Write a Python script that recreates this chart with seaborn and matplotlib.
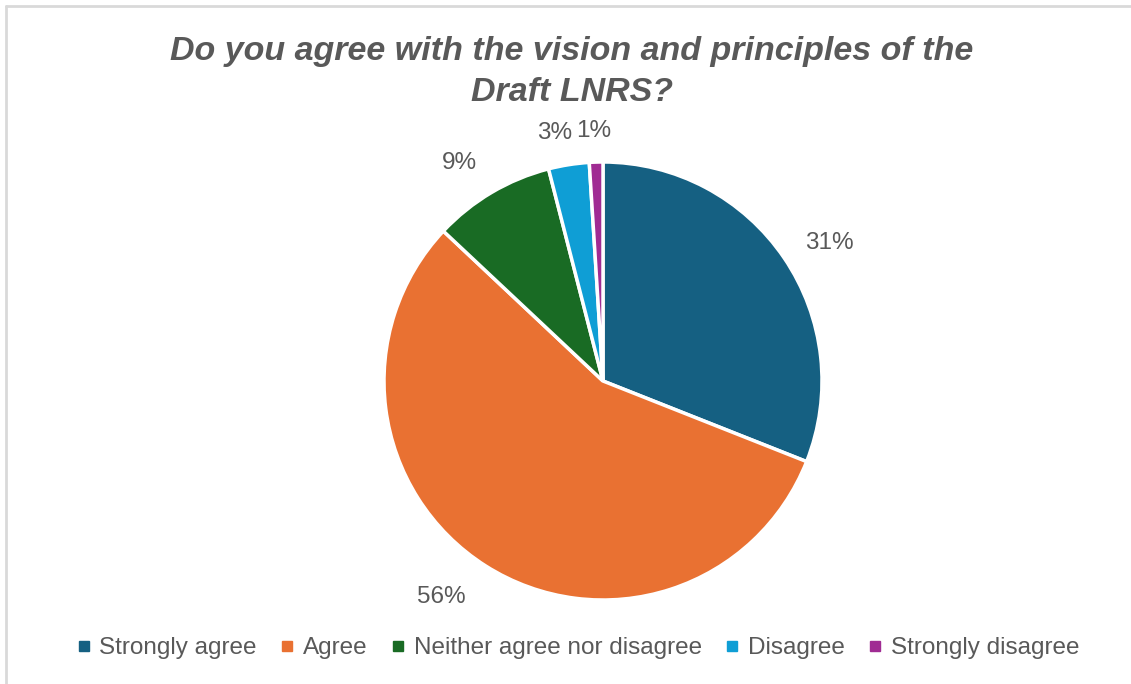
import matplotlib
matplotlib.use("Agg")
import matplotlib.pyplot as plt
import seaborn as sns
from matplotlib.lines import Line2D
import numpy as np

# Survey responses
categories = ["Strongly agree", "Agree", "Neither agree nor disagree", "Disagree", "Strongly disagree"]
shares = [31, 56, 9, 3, 1]
colors = ["#156082", "#E97132", "#196B24", "#0F9ED5", "#A02B93"]
title = "Do you agree with the vision and principles of the\nDraft LNRS?"

sns.set_theme(style="white")
plt.rcParams["font.family"] = ["Liberation Sans", "DejaVu Sans"]

W, H = 1131, 684
fig = plt.figure(figsize=(W / 100, H / 100), dpi=100)

# pie axes: centre and radius in pixels
cx, cy, R, lim = 603, 381, 219, 1.4
aw = 2 * lim * R
ax = fig.add_axes([(cx - aw / 2) / W, 1 - (cy + aw / 2) / H, aw / W, aw / H])

wedges, _, pct_texts = ax.pie(
    shares, colors=colors, startangle=90, counterclock=False,
    autopct=lambda p: f"{p:.0f}%", pctdistance=1.2,
    wedgeprops=dict(edgecolor="white", linewidth=2.5),
    textprops=dict(color="#595959", fontsize=17.5),
)
ax.set_xlim(-lim, lim)
ax.set_ylim(-lim, lim)
ax.set_aspect("equal")
ax.axis("off")

# outside-end labels: radial distance and a small angular nudge per slice
label_dist = [1.21, 1.233, 1.19, 1.153, 1.142]
label_turn = [-2.8, -4.5, 2.7, 2.0, 0.3]
for w, t, d, turn in zip(wedges, pct_texts, label_dist, label_turn):
    a = np.deg2rad((w.theta1 + w.theta2) / 2 + turn)
    t.set_position((d * np.cos(a), d * np.sin(a)))
    t.set_clip_on(False)

fig.text(572 / W, 1 - 72 / H, title, ha="center", va="center",
         fontsize=24.5, fontweight="bold", fontstyle="italic", color="#595959",
         linespacing=1.42)

handles = [Line2D([], [], marker="s", linestyle="none", markersize=6.5,
                  markerfacecolor=c, markeredgecolor=c) for c in colors]
fig.legend(handles, categories, loc="center", bbox_to_anchor=(578 / W, 1 - 648 / H),
           ncol=5, frameon=False, handlelength=0.6, handletextpad=0.35, columnspacing=0.95,
           labelcolor="#595959", prop=dict(size=17.5))

# chart frame on top and left
fig.add_artist(Line2D([6 / W, 6 / W], [0, 1 - 6 / H], transform=fig.transFigure,
                      color="#d9d9d9", linewidth=2))
fig.add_artist(Line2D([6 / W, 1], [1 - 6 / H, 1 - 6 / H], transform=fig.transFigure,
                      color="#d9d9d9", linewidth=2))

fig.savefig("out.png", dpi=100, facecolor="white")
